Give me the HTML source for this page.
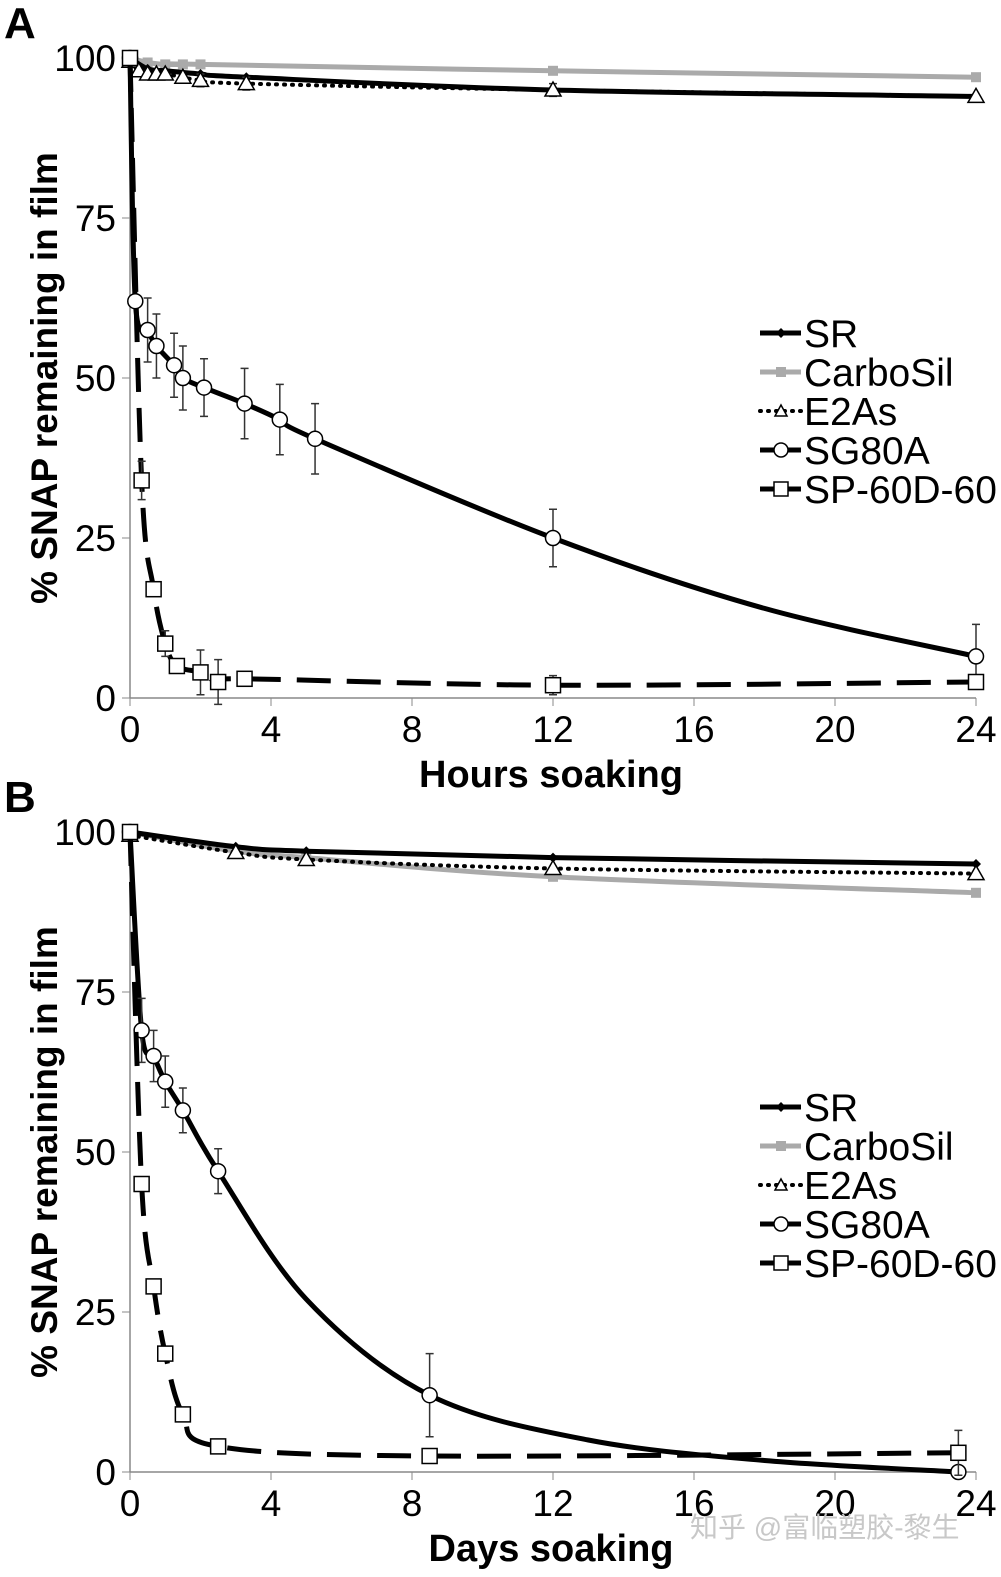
<!DOCTYPE html>
<html><head><meta charset="utf-8"><style>
body{margin:0;background:#fff}
svg{display:block}
text{font-family:"Liberation Sans",sans-serif}
</style></head><body>
<svg id="s" width="1001" height="1577" xmlns="http://www.w3.org/2000/svg"></svg>
<script>
const S=document.getElementById('s');let h='';
const X0=130,XS=35.25;
function cr(pts){let d='M'+pts[0][0]+','+pts[0][1];for(let i=0;i<pts.length-1;i++){const p0=pts[i-1]||pts[i],p1=pts[i],p2=pts[i+1],p3=pts[i+2]||p2;const t=0.5/3;d+=' C'+(p1[0]+(p2[0]-p0[0])*t)+','+(p1[1]+(p2[1]-p0[1])*t)+' '+(p2[0]-(p3[0]-p1[0])*t)+','+(p2[1]-(p3[1]-p1[1])*t)+' '+p2[0]+','+p2[1];}return d;}
function panel(Y0,lab,xt,data,leg){
 const px=x=>X0+XS*x,py=v=>Y0-6.4*v;
 h+=`<line x1="${X0}" y1="${py(100)}" x2="${X0}" y2="${Y0}" stroke="#888" stroke-width="1.5"/><line x1="${X0}" y1="${Y0}" x2="${px(24)}" y2="${Y0}" stroke="#888" stroke-width="1.5"/>`;
 [0,25,50,75,100].forEach(v=>{h+=`<line x1="${X0-8}" y1="${py(v)}" x2="${X0}" y2="${py(v)}" stroke="#888"/><text x="${X0-14}" y="${py(v)+13}" font-size="37" text-anchor="end">${v}</text>`});
 [0,4,8,12,16,20,24].forEach(v=>{h+=`<line x1="${px(v)}" y1="${Y0}" x2="${px(v)}" y2="${Y0+8}" stroke="#888"/><text x="${px(v)}" y="${Y0+44}" font-size="37" text-anchor="middle">${v}</text>`});
 h+=`<text x="551" y="${Y0+89}" font-size="38" font-weight="bold" text-anchor="middle">${xt}</text>`;
 h+=`<text transform="translate(57,${py(50)}) rotate(-90)" font-size="37" font-weight="bold" text-anchor="middle">% SNAP remaining in film</text>`;
 h+=`<text x="4" y="${py(100)-20}" font-size="44" font-weight="bold">${lab}</text>`;
 data.forEach(s=>{const pts=s.p.map(a=>[px(a[0]),py(a[1])]);
  h+=`<path d="${cr(pts)}" fill="none" stroke="${s.c}" stroke-width="${s.w}" ${s.da?'stroke-dasharray="'+s.da+'" stroke-linecap="'+(s.lc||'butt')+'"':''}/>`;
  s.p.forEach(a=>{if(a[3])return;const x=px(a[0]),y=py(a[1]);if(a[2]){h+=`<path d="M${x},${py(a[1]+a[2])}V${py(a[1]-a[2])}M${x-4},${py(a[1]+a[2])}h8M${x-4},${py(a[1]-a[2])}h8" stroke="#333" stroke-width="1.5"/>`}
   if(s.m=='o')h+=`<circle cx="${x}" cy="${y}" r="7.5" fill="#fff" stroke="#000" stroke-width="1.5"/>`;
   if(s.m=='s')h+=`<rect x="${x-7.5}" y="${y-7.5}" width="15" height="15" fill="#fff" stroke="#000" stroke-width="1.5"/>`;
   if(s.m=='t')h+=`<path d="M${x},${y-8}L${x+8},${y+6}L${x-8},${y+6}Z" fill="#fff" stroke="#000" stroke-width="1.5"/>`;
   if(s.m=='g')h+=`<rect x="${x-5}" y="${y-5}" width="10" height="10" fill="#aaa"/>`;
   if(s.m=='d')h+=`<path d="M${x},${y-5}L${x+5},${y}L${x},${y+5}L${x-5},${y}Z" fill="#000"/>`;
  });});
 const L=[['SR','#000',5,'','d'],['CarboSil','#aaa',5,'','g'],['E2As','#000',4,'1 7','t'],['SG80A','#000',5,'','o'],['SP-60D-60','#000',5,'','s']];
 L.forEach((l,i)=>{const y=leg+39*i;
  h+=`<line x1="760" y1="${y}" x2="801" y2="${y}" stroke="${l[1]}" stroke-width="${l[2]}" ${l[3]?'stroke-dasharray="'+l[3]+'" stroke-linecap="round"':''}/>`;
  const x=781;
  if(l[4]=='d')h+=`<path d="M${x},${y-5}L${x+5},${y}L${x},${y+5}L${x-5},${y}Z"/>`;
  if(l[4]=='g')h+=`<rect x="${x-5}" y="${y-5}" width="10" height="10" fill="#aaa"/>`;
  if(l[4]=='t')h+=`<path d="M${x},${y-6}L${x+6},${y+5}L${x-6},${y+5}Z" fill="#fff" stroke="#000" stroke-width="1.5"/>`;
  if(l[4]=='o')h+=`<circle cx="${x}" cy="${y}" r="7" fill="#fff" stroke="#000" stroke-width="1.5"/>`;
  if(l[4]=='s')h+=`<rect x="${x-7}" y="${y-7}" width="14" height="14" fill="#fff" stroke="#000" stroke-width="1.5"/>`;
  h+=`<text x="804" y="${y+14}" font-size="39">${l[0]}</text>`;});
}
panel(698,'A','Hours soaking',[
 {c:'#aaa',w:5,m:'g',p:[[0,100],[0.5,99.3],[1,99],[1.5,99],[2,99],[12,98],[24,97]]},
 {c:'#000',w:5,m:'d',p:[[0,100],[0.5,98.3],[1,98],[2,97.5],[3.3,97],[12,95],[24,94]]},
 {c:'#000',w:4,m:'t',da:'1 7',lc:'round',p:[[0,99.5],[0.25,98],[0.5,97.5],[0.75,97.5],[1,97.5],[1.5,97],[2,96.5,1],[3.3,96,1],[12,95,1],[24,94]]},
 {c:'#000',w:5,m:'o',p:[[0,100],[0.15,62],[0.5,57.5,5],[0.75,55,5],[1.25,52,5],[1.5,50,5],[2.1,48.5,4.5],[3.25,46,5.5],[4.25,43.5,5.5],[5.25,40.5,5.5],[12,25,4.5],[18,14,0,1],[24,6.5,5]]},
 {c:'#000',w:5,m:'s',da:'34 16',p:[[0,100],[0.33,34,3],[0.67,17],[1,8.5,2],[1.33,5,1],[2,4,3.5],[2.5,2.5,3.5],[3.25,3],[12,2,1.5],[24,2.5]]}
],333);
panel(1472,'B','Days soaking',[
 {c:'#aaa',w:5,m:'g',p:[[0,100],[3,97],[5,96],[12,93],[24,90.5]]},
 {c:'#000',w:5,m:'d',p:[[0,100],[3,97.7],[5,97],[12,96],[24,95]]},
 {c:'#000',w:4,m:'t',da:'1 7',lc:'round',p:[[0,99.5],[3,96.8],[5,95.7],[12,94.3],[24,93.5]]},
 {c:'#000',w:5,m:'o',p:[[0,100],[0.33,69,5],[0.67,65,4],[1,61,4],[1.5,56.5,3.5],[2.5,47,3.5],[5,27,0,1],[8.5,12,6.5],[13,5,0,1],[18,1.8,0,1],[23.5,0]]},
 {c:'#000',w:5,m:'s',da:'34 16',p:[[0,100],[0.33,45],[0.67,29],[1,18.5],[1.5,9],[2.5,4],[8.5,2.5],[23.5,3,3.5]]}
],1107);
h+=`<text x="690" y="1537" font-size="28" fill="#c8c8c8" font-family="'Liberation Sans','Noto Sans CJK SC',sans-serif">知乎 @富临塑胶-黎生</text>`;
S.innerHTML=h;
</script>
</body></html>
